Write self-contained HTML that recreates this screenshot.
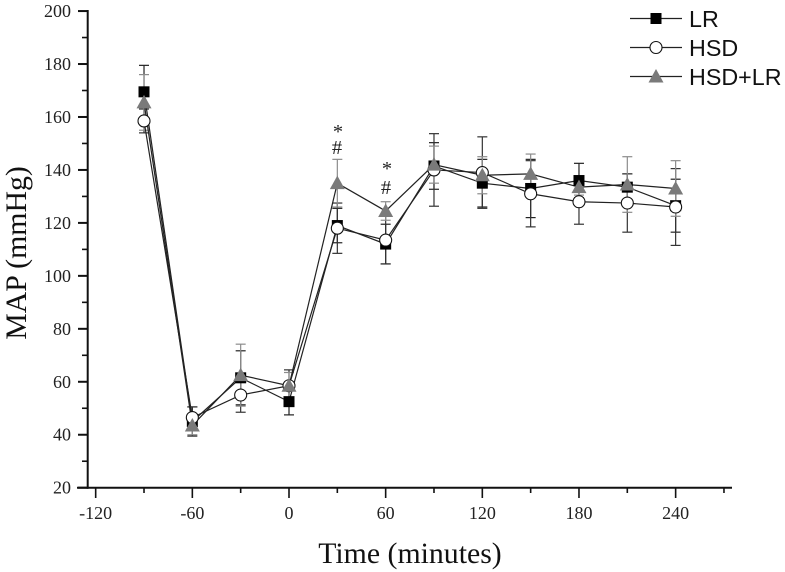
<!DOCTYPE html>
<html lang="en">
<head>
<meta charset="utf-8">
<title>MAP over time</title>
<style>
html,body{margin:0;padding:0;background:#fff;}
body{width:785px;height:572px;overflow:hidden;}
svg{display:block;}
.tick{font-family:"Liberation Serif",serif;font-size:18px;fill:#222;}
.title{font-family:"Liberation Serif",serif;font-size:29.8px;fill:#111;}
.note{font-family:"Liberation Serif",serif;font-size:20.5px;fill:#222;}
.legend{font-family:"Liberation Sans",sans-serif;font-size:23.3px;fill:#111;}
</style>
</head>
<body>
<svg id="chart" xmlns="http://www.w3.org/2000/svg" width="785" height="572" viewBox="0 0 785 572"></svg>
<script>
const times = [-90, -60, -30, 0, 30, 60, 90, 120, 150, 180, 210, 240];
const lrValues = [169.5, 45, 61.5, 52.5, 119, 112, 141.5, 135, 133, 136, 133.5, 126.5];
const hsdValues = [158.5, 46.5, 55, 58.5, 118, 113.5, 140, 139, 131, 128, 127.5, 126];
const hsdLrValues = [165.5, 43.5, 62.5, 58.5, 135, 124.5, 142, 138, 138.5, 133.5, 134.5, 133];
const lrErrors = [10, 5.5, 10.2, 5, 6.5, 7.5, 8.8, 9, 11, 6.5, 5, 10];
const hsdErrors = [4.5, 4, 6.5, 6, 9.5, 9, 13.7, 13.5, 12.5, 8.5, 11, 14.5];
const hsdLrErrors = [10.5, 3.5, 11.7, 5, 9, 3.5, 7, 7, 7.5, 3, 10.5, 10.5];
const xMajorTicks = [-120, -60, 0, 60, 120, 180, 240];
const xMinorTicks = [-90, -30, 30, 90, 150, 210, 270];
const yMajorTicks = [20, 40, 60, 80, 100, 120, 140, 160, 180, 200];
const yMinorTicks = [30, 50, 70, 90, 110, 130, 150, 170, 190];

const svg = document.getElementById('chart');
const NS = 'http://www.w3.org/2000/svg';
const xScale = v => 289 + 1.611 * v;
const yScale = v => 487.7 - (v - 20) * 2.648;
const DARK = '#111';
const GREY = '#7a7a7a';

function make(tag, attrs, parent) {
  const el = document.createElementNS(NS, tag);
  for (const k in attrs) el.setAttribute(k, attrs[k]);
  (parent || svg).appendChild(el);
  return el;
}
function drawLine(x1, y1, x2, y2, stroke, width, name, parent) {
  const el = make('line', {x1: x1, y1: y1, x2: x2, y2: y2, stroke: stroke, 'stroke-width': width}, parent);
  
  
  return el;
}
function drawText(x, y, str, cls, anchor, name) {
  const el = make('text', {x: x, y: y, class: cls, 'text-anchor': anchor});
  el.textContent = str;
  
  
  return el;
}
function drawMarker(kind, cx, cy, parent) {
  let el;
  if (kind === 'square') {
    el = make('rect', {x: cx - 5.5, y: cy - 5.5, width: 11, height: 11, fill: '#000'}, parent);
  } else if (kind === 'circle') {
    el = make('circle', {cx: cx, cy: cy, r: 6, fill: '#fff', stroke: '#111', 'stroke-width': 1.1}, parent);
  } else {
    el = make('polygon', {points: (cx - 7.5) + ',' + (cy + 6) + ' ' + cx + ',' + (cy - 7.5) + ' ' + (cx + 7.5) + ',' + (cy + 6), fill: GREY}, parent);
  }
  
  
  return el;
}

const series = [
  {name: 'lr', values: lrValues, errors: lrErrors, kind: 'square', err: '#222'},
  {name: 'hsd', values: hsdValues, errors: hsdErrors, kind: 'circle', err: '#333'},
  {name: 'hsd-lr', values: hsdLrValues, errors: hsdLrErrors, kind: 'triangle', err: '#8c8c8c'}
];

series.forEach(s => {
  const group = make('g', {});
  
  
  s.values.forEach((v, i) => {
    const x = xScale(times[i]);
    const hi = yScale(v + s.errors[i]);
    const lo = yScale(v - s.errors[i]);
    drawLine(x, hi, x, lo, s.err, 1.2, 'error-stem', group);
    drawLine(x - 5, hi, x + 5, hi, s.err, 1.2, 'error-cap-upper', group);
    drawLine(x - 5, lo, x + 5, lo, s.err, 1.2, 'error-cap-lower', group);
  });
});

series.forEach(s => {
  const line = make('polyline', {
    points: s.values.map((v, i) => xScale(times[i]) + ',' + yScale(v)).join(' '),
    fill: 'none', stroke: '#222', 'stroke-width': 1.2
  });
  
  
});

series.forEach(s => {
  const group = make('g', {});
  
  
  s.values.forEach((v, i) => drawMarker(s.kind, xScale(times[i]), yScale(v), group));
});

drawLine(87.7, 10, 87.7, 488.7, DARK, 2, 'y-axis-line');
drawLine(77, 487.7, 732, 487.7, DARK, 2, 'x-axis-line');
yMajorTicks.forEach(t => {
  drawLine(78, yScale(t), 88, yScale(t), DARK, 2, 'y-major-tick');
  drawText(71, yScale(t) + 6, String(t), 'tick', 'end', 'y-tick-label');
});
yMinorTicks.forEach(t => {
  drawLine(82, yScale(t), 88, yScale(t), DARK, 1.6, 'y-minor-tick');
});
xMajorTicks.forEach(t => {
  drawLine(xScale(t), 488, xScale(t), 498, DARK, 1.6, 'x-major-tick');
  drawText(xScale(t), 519, String(t), 'tick', 'middle', 'x-tick-label');
});
xMinorTicks.forEach(t => {
  drawLine(xScale(t), 488, xScale(t), 493, DARK, 1.6, 'x-minor-tick');
});

drawText(410, 563, 'Time (minutes)', 'title', 'middle', 'x-axis-title');
const yTitle = drawText(0, 0, 'MAP (mmHg)', 'title', 'middle', 'y-axis-title');
yTitle.setAttribute('transform', 'translate(26 253) rotate(-90)');

drawText(338, 138, '*', 'note', 'middle', 'significance-star-30');
drawText(337, 154, '#', 'note', 'middle', 'significance-hash-30');
drawText(387, 175, '*', 'note', 'middle', 'significance-star-60');
drawText(386, 194, '#', 'note', 'middle', 'significance-hash-60');

const legendLabels = ['LR', 'HSD', 'HSD+LR'];
const legendKinds = ['square', 'circle', 'triangle'];
const legend = make('g', {});


legendLabels.forEach((label, i) => {
  const y = 18.5 + i * 29;
  drawLine(630, y, 682, y, '#222', 1.2, 'legend-line', legend);
  drawMarker(legendKinds[i], 656, y, legend);
  const t = drawText(689, y + 8.3, label, 'legend', 'start', 'legend-label');
  legend.appendChild(t);
});
</script>
</body>
</html>
